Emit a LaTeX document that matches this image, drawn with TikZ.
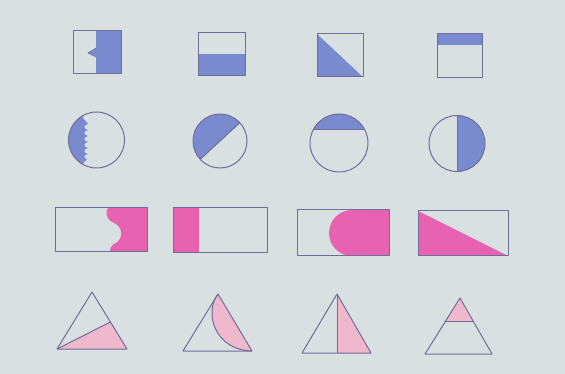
\documentclass[tikz,border=0pt]{standalone}
\definecolor{bg}{RGB}{216,224,226}
\definecolor{olc}{RGB}{112,110,152}
\definecolor{bluec}{RGB}{122,138,206}
\definecolor{magc}{RGB}{232,98,178}
\definecolor{lpink}{RGB}{240,184,204}
\tikzset{
  outl/.style={draw=olc, line width=1pt, line join=round},
  bfill/.style={fill=bluec},
  mfill/.style={fill=magc},
  lpfill/.style={fill=lpink},
}
\begin{document}
\begin{tikzpicture}[x=1pt,y=-1pt]
\fill[bg] (0,0) rectangle (565,374);
\useasboundingbox (0,0) rectangle (565,374);
% ---------- Row 1: squares ----------
\fill[bfill] (96,31) -- (96,48) -- (88,53) -- (96,57) -- (96,74) -- (121,74) -- (121,31) -- cycle;
\draw[outl,line width=0.6pt] (96,48) -- (88,53) -- (96,57);
\draw[outl] (73,31) rectangle (121,74);
\fill[bfill] (198,54) rectangle (245,76);
\draw[outl] (198,33) rectangle (245,76);
\fill[bfill] (317,34) -- (317,77) -- (363,77) -- cycle;
\draw[outl] (317,34) rectangle (363,77);
\fill[bfill] (437,34) rectangle (482,45);
\draw[outl] (437,34) rectangle (482,78);
% ---------- Row 2: circles ----------
\begin{scope}
  \clip (96.5,140) circle (28);
  \fill[bfill] (60,100) -- (83,100) -- (83,118) -- (88,124)
    .. controls (83,125) and (83,129) .. (88,130)
    .. controls (83,131) and (83,135) .. (88,136)
    .. controls (83,137) and (83,141) .. (88,142)
    .. controls (83,143) and (83,147) .. (88,148)
    .. controls (83,149) and (83,153) .. (88,154)
    .. controls (83,155) and (83,158) .. (87,159)
    -- (81,166) -- (81,180) -- (60,180) -- cycle;
\end{scope}
\draw[outl] (96.5,140) circle (28);
\begin{scope}
  \clip (220,141) circle (27);
  \fill[bfill] (249.4,113.8) -- (190.6,168.2) -- (150,168) -- (150,80) -- (260,80) -- cycle;
\end{scope}
\draw[outl] (239.8,122.7) -- (200.2,159.3);
\draw[outl] (220,141) circle (27);
\begin{scope}
  \clip (339,143) circle (29);
  \fill[bfill] (300,100) rectangle (380,130);
\end{scope}
\draw[outl] (313.1,130) -- (364.9,130);
\draw[outl] (339,143) circle (29);
\begin{scope}
  \clip (457,143.5) circle (28);
  \fill[bfill] (457,100) rectangle (500,190);
\end{scope}
\draw[outl] (457,115.5) -- (457,171.5);
\draw[outl] (457,143.5) circle (28);
% ---------- Row 3: rectangles ----------
\fill[mfill] (147,208) -- (108,208) .. controls (105,212) and (106,218) .. (112,222)
  .. controls (124,226) and (124,240) .. (114,244)
  .. controls (110,247) and (110,250) .. (110,252) -- (147,252) -- cycle;
\draw[outl] (55,208) rectangle (147,252);
\fill[mfill] (173,208) rectangle (199,253);
\draw[outl] (173,208) rectangle (267,253);
\fill[mfill] (389,210) -- (352,210) .. controls (339.3,210) and (329,220.3) .. (329,233)
  .. controls (329,245.7) and (339.3,256) .. (352,256) -- (389,256) -- cycle;
\draw[outl] (297,210) rectangle (389,256);
\fill[mfill] (418,211) -- (418,256) -- (508,256) -- cycle;
\draw[outl] (418,211) rectangle (508,256);
% ---------- Row 4: triangles ----------
\fill[lpfill] (57,349) -- (110.4,322) -- (127,349) -- cycle;
\draw[outl] (57,349) -- (110.4,322);
\draw[outl] (92,292) -- (57,349) -- (127,349) -- cycle;
\fill[lpfill] (218,294) -- (252,351) .. controls (214,350) and (204,312) .. (218,294) -- cycle;
\draw[outl] (252,351) .. controls (214,350) and (204,312) .. (218,294);
\draw[outl] (218,294) -- (183,351) -- (252,351) -- cycle;
\fill[lpfill] (337,294) -- (337,353) -- (371,353) -- cycle;
\draw[outl] (337,294) -- (337,353);
\draw[outl] (337,294) -- (302,353) -- (371,353) -- cycle;
\fill[lpfill] (460,298) -- (445.6,321) -- (473.1,321) -- cycle;
\draw[outl] (445.6,321) -- (473.1,321);
\draw[outl] (460,298) -- (425,354) -- (492,354) -- cycle;
\end{tikzpicture}
\end{document}
